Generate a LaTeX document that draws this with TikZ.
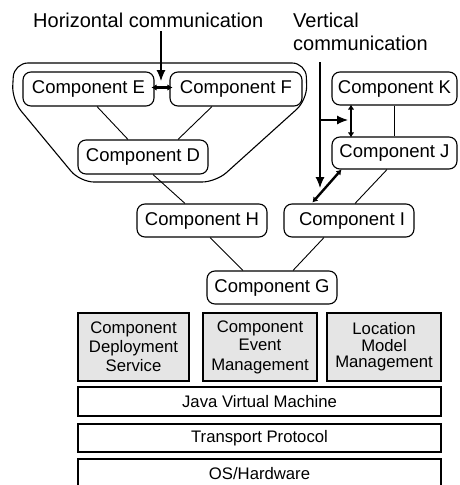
\documentclass[tikz,border=0pt]{standalone}
\usepackage{fontspec}
\setmainfont{Liberation Sans}
\usetikzlibrary{arrows.meta}
\begin{document}
\begin{tikzpicture}[x=1pt,y=-1pt,
  comp/.style={draw, rounded corners=8pt, line width=1.1pt, inner sep=0pt,
    minimum width=130pt, minimum height=33pt, font=\fontsize{18.5}{20}\selectfont},
  service/.style={draw, fill=black!10, line width=1.1pt, inner sep=0pt,
    minimum height=68pt, align=center, font=\fontsize{16.7}{19}\selectfont},
  layer/.style={draw, line width=1.1pt, inner sep=0pt, minimum width=363pt,
    font=\fontsize{16.7}{19}\selectfont},
  link/.style={line width=0.9pt},
  comm/.style={line width=2.4pt, {Latex[length=5pt,width=6.5pt]}-{Latex[length=5pt,width=6.5pt]}},
  pointer/.style={line width=1.1pt, -{Latex[length=11pt,width=9pt]}},
  label/.style={font=\fontsize{20}{23}\selectfont, inner sep=0pt}]
\useasboundingbox (0,0) rectangle (459,485);
\clip (0,0) rectangle (459,485);

% captions
\node[label, anchor=base west] (hlabel) at (33,27) {Horizontal communication};
\node[label, anchor=base west] (vlabel1) at (293,27) {Vertical};
\node[label, anchor=base west] (vlabel2) at (293,50) {communication};

% group enclosing E, F and D
\draw[line width=1.1pt, rounded corners=14pt]
  (12,100) -- (14,63) -- (306,63) -- (307,100) -- (216,182) -- (80,182) -- cycle;

% components
\node[comp, minimum width=131pt, minimum height=34pt] (E) at (88.5,89) {Component E};
\node[comp, minimum width=132pt, minimum height=34pt] (F) at (236,89) {Component F};
\node[comp, minimum height=34pt] (D) at (143,157) {Component D};
\node[comp] (H) at (202,220.5) {Component H};
\node[comp] (I) at (349,220.5) {\hspace{6pt}Component I};
\node[comp] (G) at (272,287.5) {Component G};
\node[comp, minimum width=125pt] (K) at (394.5,88.5) {Component K};
\node[comp, minimum width=125pt, minimum height=32pt] (J) at (394.5,153) {Component J};

% component tree
\draw[link] ([xshift=8.5pt]E.south) -- ([xshift=-15pt]D.north);
\draw[link] ([xshift=-24pt]F.south) -- ([xshift=35pt]D.north);
\draw[link] ([xshift=10pt]D.south) -- ([xshift=-17pt]H.north);
\draw[link] ([xshift=8pt]H.south) -- ([xshift=-29pt]G.north);
\draw[link] ([xshift=-25pt]I.south) -- ([xshift=21pt]G.north);
\draw[link] ([xshift=-7.5pt]J.south) -- ([xshift=6pt]I.north);
\draw[link] (K.south) -- (J.north);

% communication arrows
\draw[comm] ([xshift=-3pt,yshift=1.5pt]E.east) -- ([xshift=3pt,yshift=1.5pt]F.west);
\draw[comm] ([xshift=-43.5pt,yshift=1pt]K.south) -- ([xshift=-43.5pt,yshift=-1pt]J.north);
\draw[comm] ([xshift=10pt]J.south west) -- ([xshift=29pt,yshift=1pt]I.north west);

% pointers from the captions
\coordinate (htop) at (161,31);
\coordinate (htip) at (161,81);
\draw[pointer] (htop) -- (htip);
\coordinate (vtop) at (320,62);
\coordinate (vtip) at (320,188);
\coordinate (vbranch) at (320,120);
\coordinate (vbtip) at (348,120);
\draw[pointer] (vtop) -- (vtip);
\draw[pointer] (vbranch) -- (vbtip);

% middleware services
\node[service, minimum width=111pt] (deploy) at (133.5,347) {Component\\Deployment\\Service};
\node[service, minimum width=114pt] (event) at (260,347) {Component\\[-1pt]Event\\[1pt]Management};
\node[service, minimum width=114pt] (location) at (384,347) {\raisebox{4pt}{\begin{tabular}{@{}c@{}}Location\\[-2pt]Model\\[-3pt]Management\end{tabular}}};

% platform layers
\node[layer, minimum height=29pt] (jvm) at (259.5,401.5) {Java Virtual Machine};
\node[layer, minimum height=28pt] (transport) at (259.5,438) {Transport Protocol};
\node[layer, minimum height=30pt] (os) at (259.5,474) {OS/Hardware};
\end{tikzpicture}
\end{document}
